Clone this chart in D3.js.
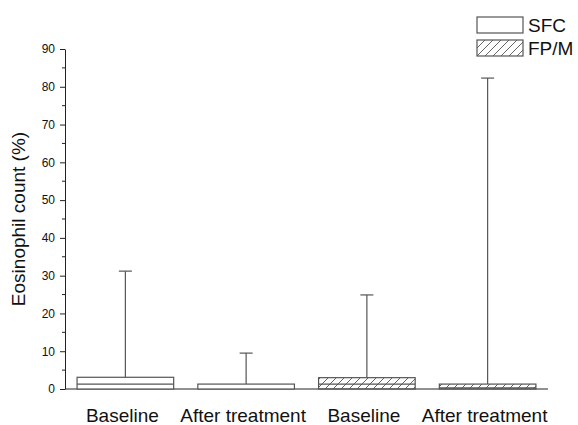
<!DOCTYPE html>
<html>
<head>
<meta charset="utf-8">
<script src="https://cdn.jsdelivr.net/npm/d3@7"></script>
<style>
  body { margin: 0; background: #fff; }
  text { font-family: "Liberation Sans", Arial, sans-serif; fill: #111; }
</style>
</head>
<body>
<div id="chart"></div>
<script>
// Chart data
var groupLabels = ["Baseline", "After treatment", "Baseline", "After treatment"];
var groupSeries = ["SFC", "SFC", "FP/M", "FP/M"];
var q1Values = [0, 0, 0, 0];
var medianValues = [1.3, 0, 1.3, 0.3];
var q3Values = [3.1, 1.3, 3.0, 1.3];
var maxValues = [31.2, 9.5, 24.9, 82.3];
var legendItems = ["SFC", "FP/M"];
var yTicks = [0, 10, 20, 30, 40, 50, 60, 70, 80, 90];

// Chart params
var svgWidth = 578;
var svgHeight = 425;
var margin = { top: 49, right: 30, bottom: 36, left: 65 };
var width = svgWidth - margin.left - margin.right;
var height = svgHeight - margin.top - margin.bottom;

var svg = d3.select("#chart")
    .append("svg")
    .attr("width", svgWidth)
    .attr("height", svgHeight);

// hatch pattern for FP/M
var defs = svg.append("defs");
var pat = defs.append("pattern")
    .attr("id", "hatch")
    .attr("patternUnits", "userSpaceOnUse")
    .attr("width", 8)
    .attr("height", 8);
pat.append("path")
    .attr("d", "M-2,10 L10,-2 M-2,2 L2,-2 M6,10 L10,6")
    .attr("stroke", "#555")
    .attr("stroke-width", 0.9);

var chartGroup = svg.append("g")
    .attr("transform", `translate(${margin.left}, ${margin.top})`);

var data = groupLabels.map(function(d, i) {
    return { idx: i, label: d, series: groupSeries[i], q1: q1Values[i],
             med: medianValues[i], q3: q3Values[i], max: maxValues[i] };
});

// Scales
var xBand = d3.scaleBand()
    .domain(data.map(d => d.idx))
    .range([0, width])
    .paddingInner(0.2)
    .paddingOuter(0.1);

var yLinearScale = d3.scaleLinear()
    .domain([0, 90])
    .range([height, 0]);

// Y axis: major ticks with labels, minor ticks
var leftAxis = d3.axisLeft(yLinearScale)
    .tickValues(yTicks)
    .tickSize(5)
    .tickPadding(5)
    .tickSizeOuter(0);

var yAxisG = chartGroup.append("g").call(leftAxis);
yAxisG.selectAll("text").style("font-size", "12px").attr("fill", "#222");
yAxisG.select(".domain").attr("stroke", "#222");
yAxisG.selectAll(".tick line").attr("stroke", "#222");

var minorTicks = d3.range(5, 90, 10);
chartGroup.append("g").selectAll("line")
    .data(minorTicks)
    .enter()
    .append("line")
    .attr("x1", -3)
    .attr("x2", 0)
    .attr("y1", d => yLinearScale(d))
    .attr("y2", d => yLinearScale(d))
    .attr("stroke", "#222");

// X axis: line only, labels under each group
chartGroup.append("line")
    .attr("x1", 0)
    .attr("x2", width)
    .attr("y1", height)
    .attr("y2", height)
    .attr("stroke", "#222");

chartGroup.selectAll(".xlab")
    .data(data)
    .enter()
    .append("text")
    .attr("class", "xlab")
    .attr("x", d => xBand(d.idx) + xBand.bandwidth() / 2 - 3)
    .attr("y", height + 33)
    .attr("text-anchor", "middle")
    .style("font-size", "19px")
    .text(d => d.label);

// Whiskers
var whiskers = chartGroup.selectAll(".whisker")
    .data(data)
    .enter()
    .append("g")
    .attr("class", "whisker");

whiskers.append("line")
    .attr("x1", d => xBand(d.idx) + xBand.bandwidth() / 2)
    .attr("x2", d => xBand(d.idx) + xBand.bandwidth() / 2)
    .attr("y1", d => yLinearScale(d.q3))
    .attr("y2", d => yLinearScale(d.max))
    .attr("stroke", "#555")
    .attr("stroke-width", 1.2);

whiskers.append("line")
    .attr("x1", d => xBand(d.idx) + xBand.bandwidth() / 2 - 6.5)
    .attr("x2", d => xBand(d.idx) + xBand.bandwidth() / 2 + 6.5)
    .attr("y1", d => yLinearScale(d.max))
    .attr("y2", d => yLinearScale(d.max))
    .attr("stroke", "#555")
    .attr("stroke-width", 1.2);

// Boxes
chartGroup.selectAll(".box")
    .data(data)
    .enter()
    .append("rect")
    .attr("class", "box")
    .attr("x", d => xBand(d.idx))
    .attr("width", xBand.bandwidth())
    .attr("y", d => yLinearScale(d.q3))
    .attr("height", d => yLinearScale(d.q1) - yLinearScale(d.q3))
    .attr("fill", d => d.series == "SFC" ? "#fff" : "url(#hatch)")
    .attr("stroke", "#555")
    .attr("stroke-width", 1.2);

// Medians
chartGroup.selectAll(".median")
    .data(data.filter(d => d.med > 0))
    .enter()
    .append("line")
    .attr("class", "median")
    .attr("x1", d => xBand(d.idx))
    .attr("x2", d => xBand(d.idx) + xBand.bandwidth())
    .attr("y1", d => yLinearScale(d.med))
    .attr("y2", d => yLinearScale(d.med))
    .attr("stroke", "#555")
    .attr("stroke-width", 1.2);

// Y axis label
chartGroup.append("text")
    .attr("transform", "rotate(-90)")
    .attr("x", 0 - (height / 2))
    .attr("y", 0 - margin.left + 25)
    .attr("text-anchor", "middle")
    .style("font-size", "19px")
    .text("Eosinophil count (%)");

// Legend
var legend = svg.append("g")
    .selectAll("g")
    .data(legendItems)
    .enter()
    .append("g")
    .attr("transform", (d, i) => `translate(477, ${17 + i * 23})`);

legend.append("rect")
    .attr("width", 46)
    .attr("height", 16)
    .attr("fill", (d, i) => i == 0 ? "#fff" : "url(#hatch)")
    .attr("stroke", "#555")
    .attr("stroke-width", 1.2);

legend.append("text")
    .attr("x", 51)
    .attr("y", 15)
    .style("font-size", "19px")
    .text(d => d);
</script>
</body>
</html>
